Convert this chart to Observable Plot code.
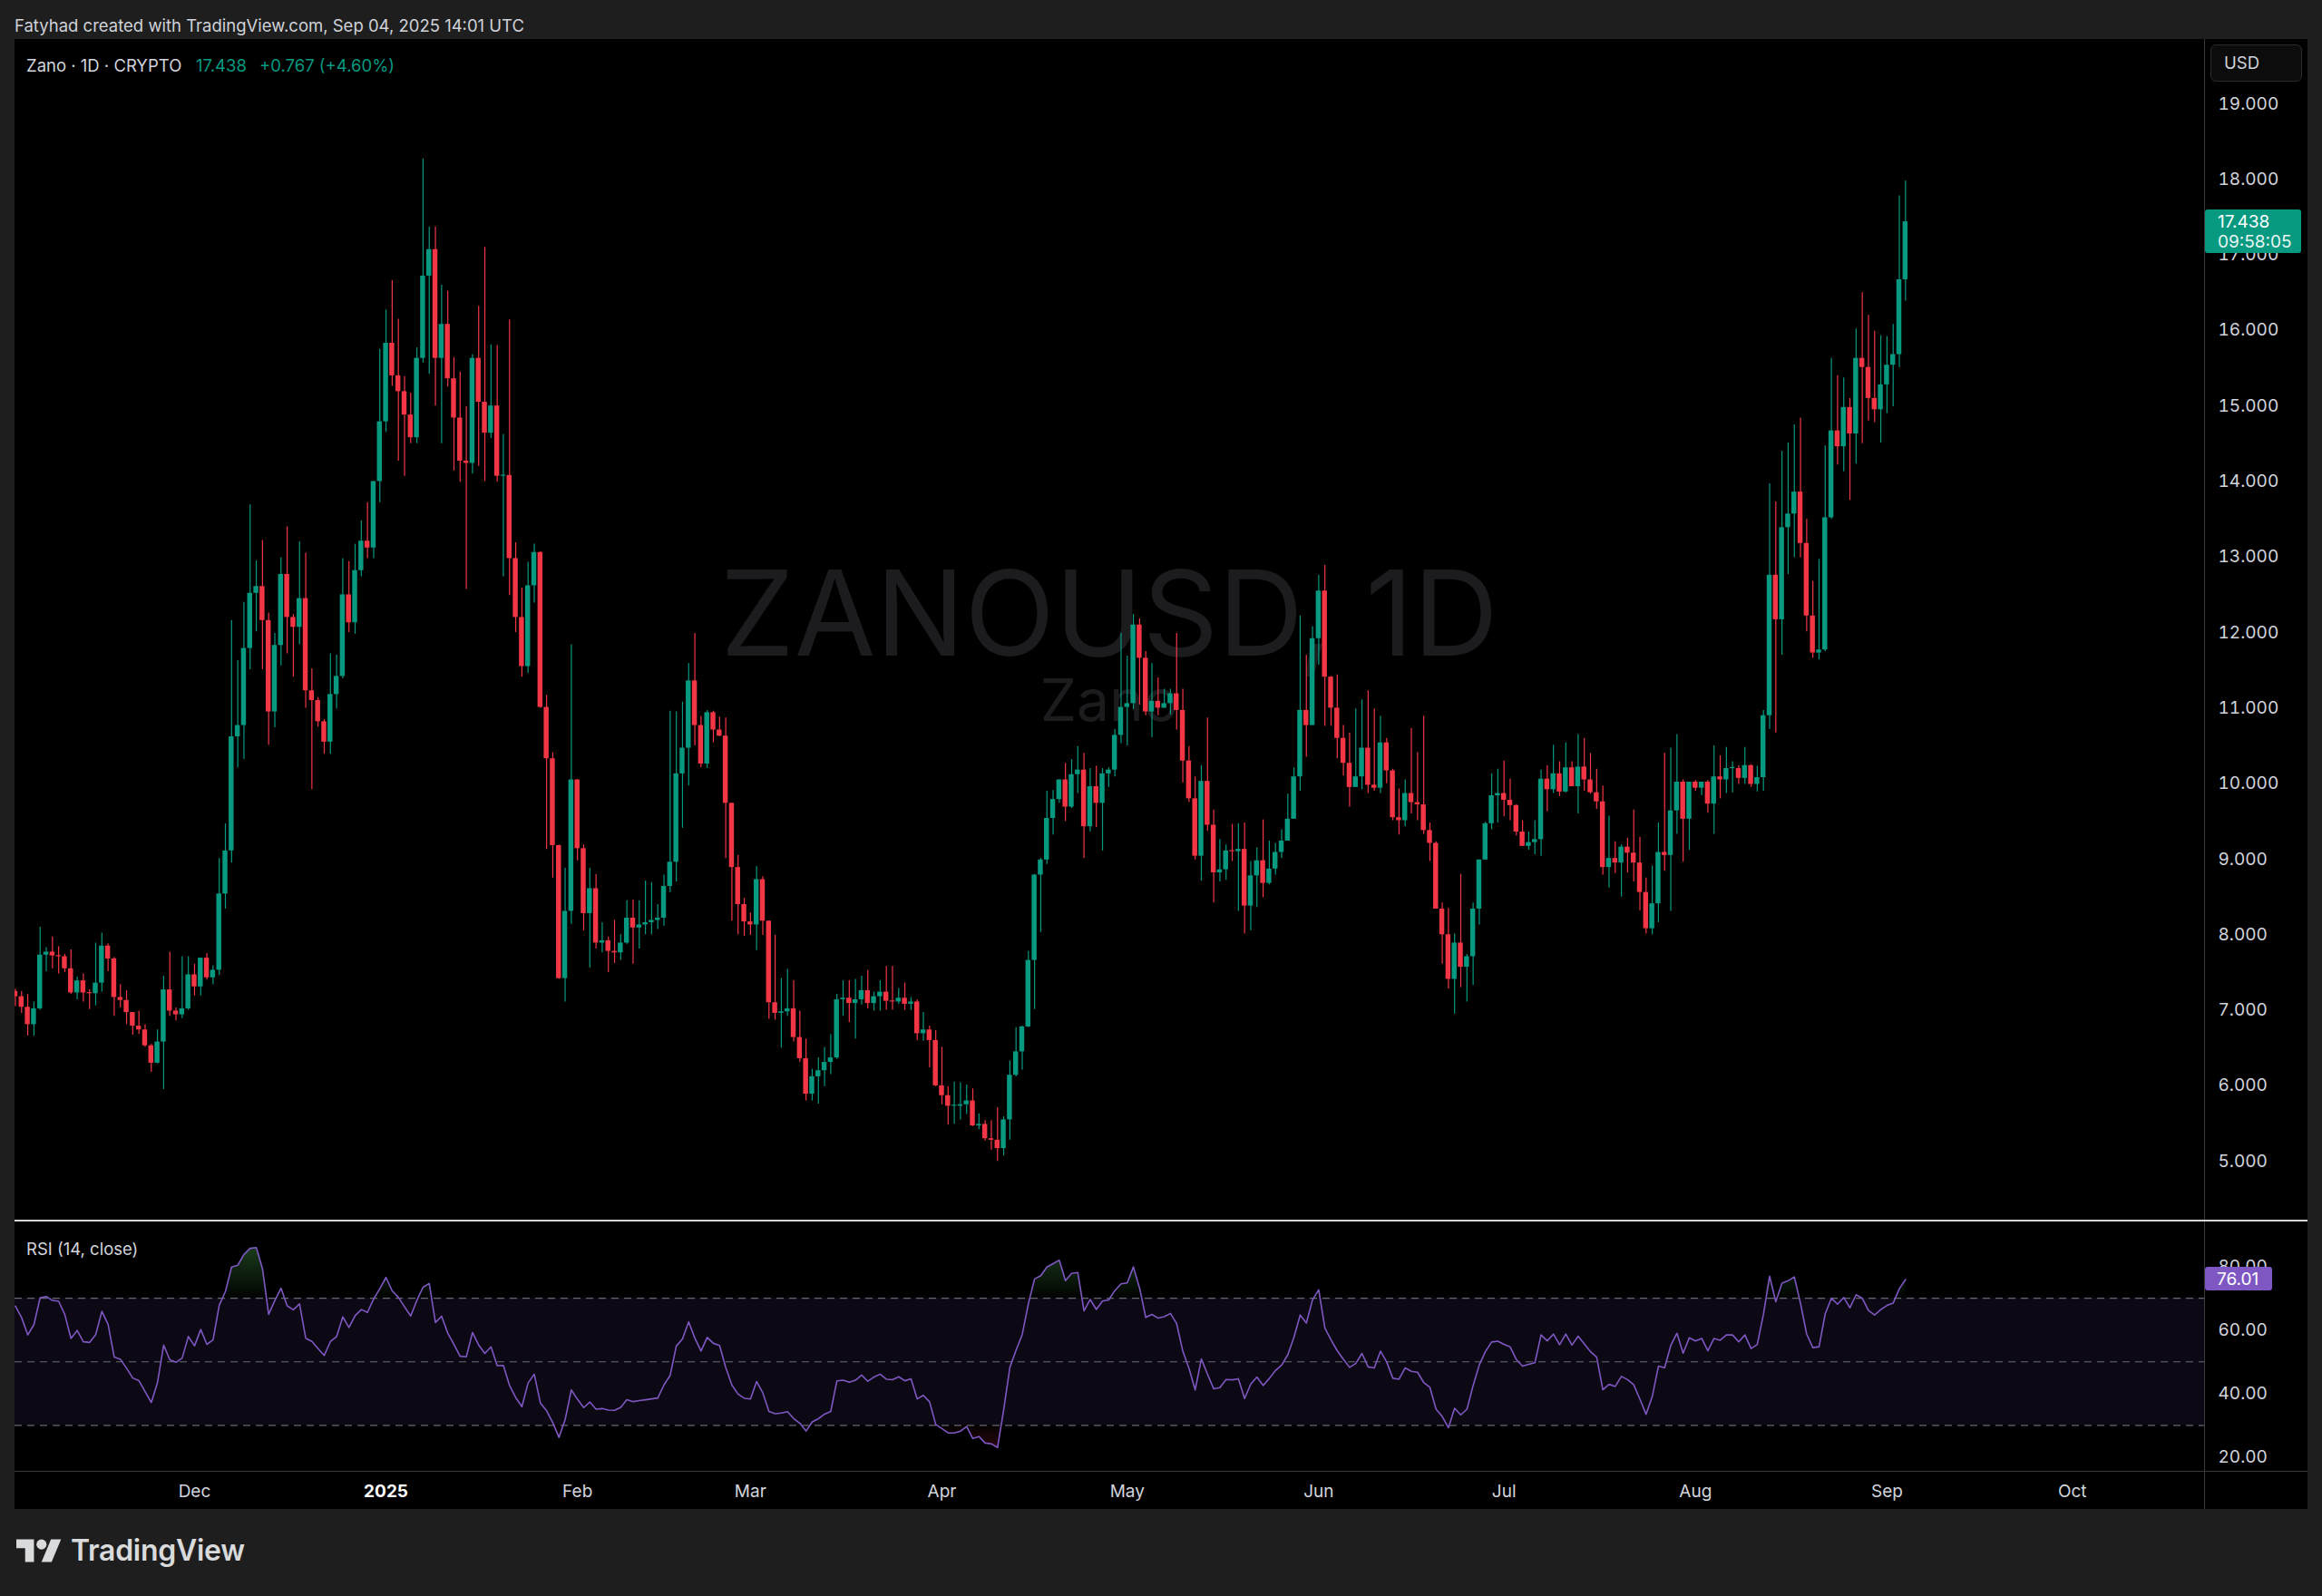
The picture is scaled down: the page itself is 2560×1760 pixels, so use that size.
<!DOCTYPE html>
<html>
<head>
<meta charset="utf-8">
<script src="https://cdn.jsdelivr.net/npm/d3@7"></script>
<script src="https://cdn.jsdelivr.net/npm/@observablehq/plot@0.6"></script>
<style>
  html, body { margin:0; padding:0; background:#1e1e1e; }
  body { width:2560px; height:1760px; position:relative; overflow:hidden; font-family: Inter, "Noto Sans", sans-serif; color:#d1d4dc; }
  .abs { position:absolute; white-space:nowrap; }
  #header { left:16px; top:15px; font-size:18.5px; line-height:26px; color:#cfd2d9; }
  #panel { position:absolute; left:16px; top:43px; width:2528px; height:1621px; background:#000; overflow:hidden; }
  .wm { left:0; width:2414px; text-align:center; color:#1c1c1f; }
  #wm1 { top:568px; font-size:130px; line-height:130px; }
  #wm2 { top:697px; font-size:64px; line-height:64px; }
  #mainChart { position:absolute; left:0; top:0; }
  #rsiChart { position:absolute; left:0; top:1305px; }
  .leg { top:16px; font-size:18.5px; line-height:26px; }
  #vline { left:2414px; top:0; width:1px; height:1621px; background:#3a3a3a; }
  #sep { left:0; top:1302px; width:2528px; height:2px; background:#d6d6d6; }
  #tline { left:0; top:1579px; width:2528px; height:1px; background:#3a3a3a; }
  #usd { left:2421px; top:6px; width:101px; height:41px; box-sizing:border-box; border:1px solid #2b2b2b; border-radius:6px; background:#0c0c0c; font-size:18.5px; line-height:39px; padding-left:14px; color:#d1d4dc; }
  #rsiLabel { left:13px; top:1321px; font-size:18.5px; line-height:26px; color:#d1d4dc; }
  #logoText { left:78px; top:1694px; font-size:32px; line-height:32px; font-weight:600; color:#d9dadc; letter-spacing:-0.3px; }
</style>
</head>
<body>
<div id="header" class="abs">Fatyhad created with TradingView.com, Sep 04, 2025 14:01 UTC</div>
<div id="panel">
  <div id="wm1" class="abs wm">ZANOUSD, 1D</div>
  <div id="wm2" class="abs wm">Zano</div>
  <div id="mainChart"></div>
  <div id="rsiChart"></div>
  <div id="vline" class="abs"></div>
  <div id="sep" class="abs"></div>
  <div id="tline" class="abs"></div>
  <div id="usd" class="abs">USD</div>
  <div class="abs leg" style="left:13px;color:#d1d4dc">Zano · 1D · CRYPTO</div>
  <div id="legPrice" class="abs leg" style="left:200px;color:#089981"></div>
  <div id="legChange" class="abs leg" style="left:270px;color:#089981"></div>
  <div id="rsiLabel" class="abs">RSI (14, close)</div>
</div>
<svg class="abs" style="left:18px;top:1692px" width="50" height="39" viewBox="0 0 36 28"><path fill="#d9dadc" d="M14 22H7V11H0V4h14v18zM28 22h-8l7.5-18h8L28 22z"/><circle fill="#d9dadc" cx="20" cy="8" r="4"/></svg>
<div id="logoText" class="abs">TradingView</div>
<script>
// ---------------- DATA ----------------
const firstDay = "2024-11-02";          // first (partly clipped) daily bar
const firstOpen = 7.25;                 // open of the first bar; later opens = previous close
const close = [
 7.18,7.04,6.81,7.02,7.73,7.77,7.72,7.71,7.55,7.23,
 7.39,7.23,7.22,7.36,7.85,7.68,7.17,7.13,6.97,6.79,
 6.74,6.53,6.30,6.58,7.27,6.99,6.94,7.02,7.47,7.31,
 7.69,7.43,7.53,8.54,9.11,10.62,10.77,11.79,12.52,12.61,
 12.16,10.95,11.83,12.77,12.20,12.07,12.45,11.23,11.10,10.82,
 10.55,11.18,11.42,12.50,12.13,12.82,13.21,13.12,14.00,14.79,
 15.83,15.40,15.19,14.88,14.58,15.63,16.72,17.07,15.63,16.08,
 15.36,14.84,14.27,14.24,15.63,15.05,14.64,15.00,14.07,14.08,
 12.98,12.20,11.55,12.62,13.06,11.01,10.33,9.18,7.42,8.31,
 10.05,9.14,8.28,8.61,7.89,7.92,7.78,7.76,7.89,8.22,
 8.09,8.13,8.16,8.19,8.22,8.64,8.96,10.13,10.47,11.36,
 10.77,10.26,10.94,10.71,10.63,9.74,8.89,8.40,8.17,8.13,
 8.73,8.18,7.10,6.96,6.98,7.02,6.64,6.36,5.89,6.12,
 6.20,6.31,6.37,7.14,7.16,7.09,7.14,7.26,7.09,7.18,
 7.24,7.12,7.11,7.16,7.08,7.11,6.69,6.74,6.60,6.00,
 5.87,5.73,5.73,5.75,5.80,5.47,5.49,5.30,5.28,5.17,
 5.55,6.14,6.45,6.78,7.66,8.79,8.99,9.54,9.79,10.05,
 9.69,10.12,10.18,9.43,9.96,9.74,10.13,10.18,10.64,11.01,
 11.06,12.10,11.66,10.95,11.09,11.00,11.06,11.19,10.97,10.30,
 9.80,9.04,10.03,9.45,8.82,8.86,9.11,9.10,9.13,8.38,
 8.78,8.98,8.68,8.87,9.09,9.24,9.53,10.09,10.97,10.77,
 11.92,12.55,11.41,11.00,10.60,10.27,9.95,10.09,10.47,9.98,
 9.94,10.54,10.17,9.55,9.51,9.87,9.75,9.72,9.38,9.21,
 8.34,8.00,7.41,7.89,7.57,7.71,8.34,8.99,9.47,9.84,
 9.87,9.78,9.71,9.36,9.17,9.22,9.26,10.06,9.92,10.13,
 9.89,10.21,9.96,10.22,10.05,9.88,9.76,8.89,9.01,8.95,
 9.16,9.08,8.95,8.56,8.08,8.41,9.09,9.05,9.64,10.02,
 9.53,10.02,9.94,10.02,9.73,10.09,10.05,10.20,10.20,10.07,
 10.24,9.99,10.08,10.90,12.76,12.17,13.39,13.57,13.86,13.18,
 12.22,11.73,11.77,13.52,14.67,14.46,14.98,14.63,15.63,15.51,
 15.10,14.95,15.28,15.54,15.68,16.671,17.438
];
const high = [
 7.28,7.25,7.21,7.11,8.10,7.83,7.97,7.84,7.74,7.80,
 7.44,7.48,7.27,7.89,8.02,7.88,7.70,7.34,7.26,6.94,
 6.99,6.81,6.55,6.74,7.45,7.77,7.03,7.71,7.71,7.61,
 7.69,7.75,7.59,9.01,9.47,12.16,11.63,12.40,13.69,12.95,
 13.22,12.26,11.99,12.99,13.40,12.24,13.20,13.05,11.52,11.14,
 10.85,11.72,11.70,12.98,12.94,13.17,13.48,13.72,14.00,15.75,
 16.27,16.66,16.15,15.39,15.17,15.77,18.27,17.37,17.37,16.60,
 16.52,15.64,15.45,14.99,15.68,16.32,17.10,15.81,15.80,14.62,
 16.14,13.19,12.59,12.93,13.17,13.07,11.17,10.41,9.19,8.88,
 11.84,10.05,9.19,8.88,8.80,8.16,7.97,8.19,8.00,8.45,
 8.46,8.45,8.71,8.69,8.40,8.79,10.96,10.95,11.08,11.59,
 11.99,10.89,10.97,10.96,10.88,10.87,9.74,9.05,8.48,8.29,
 8.90,8.77,8.18,7.99,7.42,7.54,7.39,6.99,6.62,6.22,
 6.37,6.51,6.68,7.21,7.39,7.39,7.41,7.45,7.53,7.24,
 7.39,7.58,7.58,7.29,7.36,7.17,7.14,6.97,6.79,6.73,
 6.51,5.99,6.05,6.04,6.01,5.96,5.63,5.54,5.54,5.71,
 5.59,6.33,6.77,6.79,7.78,8.80,9.01,9.90,9.91,10.05,
 10.27,10.32,10.49,10.40,10.20,10.23,10.20,10.21,10.72,11.99,
 11.69,12.24,12.18,11.75,11.59,11.40,11.25,11.25,11.99,11.25,
 10.49,10.09,10.24,10.87,9.65,9.26,9.19,9.46,9.47,9.48,
 8.97,9.15,9.52,9.24,9.21,9.39,9.86,10.21,12.22,11.70,
 12.08,12.76,12.89,11.42,11.44,10.77,10.67,10.99,11.11,11.23,
 10.99,10.89,10.60,10.19,9.93,10.05,10.73,10.41,10.89,9.48,
 9.23,8.42,8.35,8.01,8.80,7.74,8.42,8.99,9.49,10.13,
 10.19,10.30,10.06,9.72,9.51,9.36,9.51,10.18,10.24,10.51,
 10.29,10.54,10.29,10.65,10.60,10.40,10.19,9.97,9.57,9.23,
 9.19,9.28,9.65,9.29,8.75,8.91,9.48,10.40,10.47,10.65,
 10.05,10.02,10.04,10.02,10.04,10.50,10.37,10.48,10.29,10.24,
 10.48,10.25,10.23,10.97,13.97,13.73,14.40,14.51,14.75,14.84,
 13.50,12.68,12.97,14.47,15.63,15.40,15.37,15.10,16.02,16.50,
 16.20,15.99,15.93,15.92,16.08,17.78,17.98
];
const low = [
 7.05,6.96,6.66,6.66,7.00,7.51,7.55,7.48,7.50,7.21,
 7.14,7.11,7.01,7.06,7.24,7.51,6.92,7.03,6.81,6.67,
 6.68,6.51,6.18,6.29,5.95,6.92,6.86,6.89,7.00,7.19,
 7.19,7.40,7.34,7.46,8.34,8.95,10.21,10.32,11.51,12.01,
 11.51,10.51,10.74,11.56,11.72,11.41,11.84,11.00,9.92,10.75,
 10.39,10.39,10.99,11.39,12.00,11.98,12.74,12.98,12.98,13.72,
 14.65,15.26,14.27,14.07,14.50,14.50,15.57,15.42,15.00,14.50,
 15.25,14.14,13.99,12.57,14.10,14.20,14.00,14.57,13.99,12.74,
 12.49,12.00,11.41,11.46,12.39,11.00,9.13,8.75,7.41,7.11,
 8.14,8.98,8.05,7.56,7.81,7.76,7.50,7.62,7.66,7.87,
 7.61,7.81,8.00,8.00,8.07,8.11,8.56,8.70,9.41,9.97,
 10.50,10.21,10.20,10.54,10.62,9.01,8.18,8.00,7.98,7.99,
 7.79,7.99,6.88,6.87,6.50,6.92,6.58,6.31,5.80,5.80,
 5.76,5.99,6.15,6.35,6.92,6.84,6.62,7.07,7.02,6.99,
 6.99,7.00,7.00,7.08,7.00,7.00,6.60,6.59,6.24,5.99,
 5.75,5.48,5.49,5.55,5.62,5.46,5.42,5.27,5.15,5.00,
 5.07,5.28,6.12,6.21,6.77,7.01,8.03,8.93,9.32,9.74,
 9.50,9.67,9.87,9.01,9.36,9.42,9.11,9.95,10.09,10.53,
 10.50,10.98,11.04,10.90,10.61,10.90,11.00,10.91,10.71,10.01,
 9.75,8.99,8.71,9.37,8.42,8.70,8.72,8.97,8.31,8.01,
 8.05,8.36,8.49,8.66,8.79,9.01,9.24,9.53,9.90,10.35,
 10.77,11.57,10.76,10.76,10.33,10.10,9.69,9.95,9.92,9.87,
 9.90,9.87,10.00,9.51,9.32,9.43,9.60,9.51,9.33,8.97,
 8.34,7.61,7.28,6.95,7.30,7.11,7.33,8.13,8.99,9.39,
 9.48,9.56,9.51,9.31,9.17,9.12,9.06,9.04,9.63,9.87,
 9.83,9.88,9.96,9.60,9.90,9.86,9.66,8.79,8.62,8.81,
 8.50,8.82,8.70,8.32,8.01,8.00,8.16,8.84,8.31,9.33,
 8.96,9.12,9.90,9.84,9.61,9.33,9.80,9.87,9.88,9.99,
 9.99,9.95,9.89,9.90,10.72,10.67,11.70,12.77,12.99,12.99,
 12.01,11.66,11.64,11.75,13.50,14.22,14.13,13.75,14.23,14.50,
 14.80,14.78,14.51,14.90,14.99,15.51,16.39
];
const priceTicks = [5,6,7,8,9,10,11,12,13,14,15,16,17,18,19];
const rsiTicks = [20,40,60,80];
const rsiLevels = [70,50,30];
const rsiSeed = {gain: 0.14, loss: 0.062};   // averages before the first visible bar (RSI ≈ 67.5 at left edge)
const rsiLastLabel = "76.01";
const timeTicks  = ["2024-12-01","2025-01-01","2025-02-01","2025-03-01","2025-04-01","2025-05-01","2025-06-01","2025-07-01","2025-08-01","2025-09-01","2025-10-01"];
const timeLabels = ["Dec","2025","Feb","Mar","Apr","May","Jun","Jul","Aug","Sep","Oct"];
const lastPrice = "17.438", lastChange = "+0.767 (+4.60%)", countdown = "09:58:05";

// ---------------- BUILD ----------------
const DAY = 864e5;
const UP = "#089981", DOWN = "#f23645", RSI_C = "#7e57c2";
const t0 = Date.parse(firstDay + "T00:00:00Z");
const candles = close.map((c, i) => {
  const o = i === 0 ? firstOpen : close[i - 1];
  return {date: new Date(t0 + i * DAY), open: o, close: c,
          high: Math.max(high[i], o, c), low: Math.min(low[i], o, c), up: c >= o};
});
// RSI(14, close), Wilder smoothing
let ag = rsiSeed.gain, al = rsiSeed.loss;
const rsiData = candles.map(d => {
  const ch = d.close - d.open;
  ag = (ag * 13 + Math.max(ch, 0)) / 14;
  al = (al * 13 + Math.max(-ch, 0)) / 14;
  return {date: d.date, rsi: 100 - 100 / (1 + ag / al)};
});

const xDomain = [new Date(t0 - 0.07 * DAY), new Date(t0 + 354.41 * DAY)];
const W = 2528, MR = 114;
const font = "Inter, 'Noto Sans', sans-serif";
const baseStyle = {background: "transparent", color: "#d1d4dc", fontFamily: font, fontSize: "19px", overflow: "visible"};

document.getElementById("legPrice").textContent = lastPrice;
document.getElementById("legChange").textContent = lastChange;

const main = Plot.plot({
  width: W, height: 1302,
  marginLeft: 0, marginRight: MR, marginTop: 0, marginBottom: 0,
  style: baseStyle,
  x: {type: "utc", domain: xDomain, axis: null},
  y: {domain: [4.222, 19.852], axis: null, label: null},
  marks: [
    Plot.axisY({anchor: "right", label: null, ticks: priceTicks, tickFormat: d3.format(".3f"), tickSize: 0, tickPadding: 15, fill: "#d1d4dc"}),
    Plot.ruleX(candles, {x: "date", y1: "low", y2: "high", stroke: d => d.up ? UP : DOWN, strokeWidth: 1.2}),
    Plot.rect(candles, {
      x1: d => new Date(+d.date - 0.4 * DAY), x2: d => new Date(+d.date + 0.4 * DAY),
      y1: d => Math.min(d.open, d.close),
      y2: d => Math.max(d.open, d.close, Math.min(d.open, d.close) + 0.014),
      fill: d => d.up ? UP : DOWN
    }),
    (index, scales, values, dims) => {
      const y = scales.y(+lastPrice);
      const x0 = dims.width - dims.marginRight;
      const g = d3.create("svg:g").attr("font-family", font).attr("font-size", 19);
      g.append("rect").attr("x", x0 + 1).attr("y", y - 13).attr("width", 106).attr("height", 48).attr("rx", 3).attr("fill", UP);
      g.append("text").attr("x", x0 + 15).attr("y", y).attr("dy", "0.35em").attr("text-anchor", "start").attr("fill", "#ffffff").text(lastPrice);
      g.append("text").attr("x", x0 + 15).attr("y", y + 22).attr("dy", "0.35em").attr("text-anchor", "start").attr("fill", "#e8f5f1").text(countdown);
      return g.node();
    }
  ]
});
document.getElementById("mainChart").append(main);

const tickRows = timeTicks.map((t, i) => ({date: new Date(t + "T00:00:00Z"), label: timeLabels[i]}));

const rsiPlot = Plot.plot({
  width: W, height: 316,
  marginLeft: 0, marginRight: MR, marginTop: 0, marginBottom: 42,
  style: baseStyle,
  x: {type: "utc", domain: xDomain, axis: null},
  y: {domain: [15.58, 93.68], axis: null, label: null},
  marks: [
    (index, scales) => {
      const defs = d3.create("svg:defs");
      const g1 = defs.append("linearGradient").attr("id", "obGrad").attr("gradientUnits", "userSpaceOnUse")
        .attr("x1", 0).attr("x2", 0).attr("y1", scales.y(100)).attr("y2", scales.y(70));
      g1.append("stop").attr("offset", 0).attr("stop-color", "#4caf50").attr("stop-opacity", 0.62);
      g1.append("stop").attr("offset", 1).attr("stop-color", "#4caf50").attr("stop-opacity", 0.02);
      const g2 = defs.append("linearGradient").attr("id", "osGrad").attr("gradientUnits", "userSpaceOnUse")
        .attr("x1", 0).attr("x2", 0).attr("y1", scales.y(30)).attr("y2", scales.y(0));
      g2.append("stop").attr("offset", 0).attr("stop-color", "#f23645").attr("stop-opacity", 0.02);
      g2.append("stop").attr("offset", 1).attr("stop-color", "#f23645").attr("stop-opacity", 0.62);
      return defs.node();
    },
    Plot.rect([0], {y1: rsiLevels[2], y2: rsiLevels[0], fill: RSI_C, fillOpacity: 0.1}),
    Plot.ruleY(rsiLevels, {stroke: "#787b86", strokeOpacity: 0.85, strokeDasharray: "8,6", strokeWidth: 1.2}),
    Plot.areaY(rsiData, {x: "date", y1: 70, y2: d => Math.max(d.rsi, 70), fill: "url(#obGrad)"}),
    Plot.areaY(rsiData, {x: "date", y1: 30, y2: d => Math.min(d.rsi, 30), fill: "url(#osGrad)"}),
    Plot.line(rsiData, {x: "date", y: "rsi", stroke: RSI_C, strokeWidth: 1.6}),
    Plot.axisY({anchor: "right", label: null, ticks: rsiTicks, tickFormat: d3.format(".2f"), tickSize: 0, tickPadding: 15, fill: "#d1d4dc"}),
    Plot.text(tickRows.filter(d => d.label !== "2025"),
      {x: "date", text: "label", frameAnchor: "bottom", dy: 22, lineAnchor: "middle", fill: "#d1d4dc", fontSize: 19}),
    Plot.text(tickRows.filter(d => d.label === "2025"),
      {x: "date", text: "label", frameAnchor: "bottom", dy: 22, lineAnchor: "middle", fill: "#ffffff", fontSize: 19, fontWeight: 700}),
    (index, scales, values, dims) => {
      const y = scales.y(+rsiLastLabel);
      const x0 = dims.width - dims.marginRight;
      const g = d3.create("svg:g").attr("font-family", font).attr("font-size", 19);
      g.append("rect").attr("x", x0 + 1).attr("y", y - 13).attr("width", 74).attr("height", 26).attr("rx", 3).attr("fill", RSI_C);
      g.append("text").attr("x", x0 + 14).attr("y", y).attr("dy", "0.35em").attr("text-anchor", "start").attr("fill", "#ffffff").text(rsiLastLabel);
      return g.node();
    }
  ]
});
document.getElementById("rsiChart").append(rsiPlot);
</script>
</body>
</html>
